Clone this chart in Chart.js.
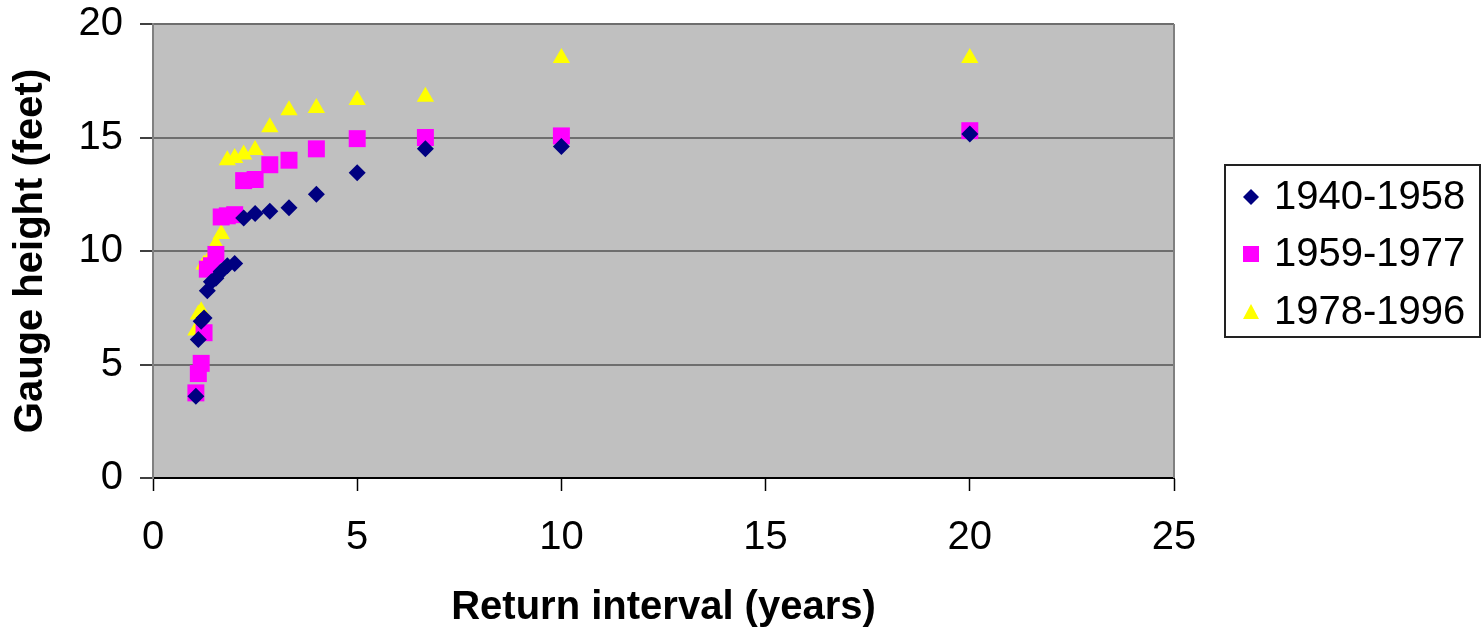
<!DOCTYPE html>
<html>
<head>
<meta charset="utf-8">
<script src="https://cdn.jsdelivr.net/npm/chart.js@4/dist/chart.umd.min.js"></script>
<style>
  html, body { margin: 0; padding: 0; background: #ffffff; }
  canvas { display: block; }
</style>
</head>
<body>
<canvas id="chart" width="1482" height="634"></canvas>
<script>
// Return interval (years) for each ranked annual peak
const returnIntervals = [20, 10, 6.67, 5, 4, 3.33, 2.86, 2.5, 2.22, 2.0, 1.82, 1.67, 1.54, 1.43, 1.33, 1.25, 1.18, 1.11, 1.05];

// Gauge height (feet) for each period
const gauge1940to1958 = [15.15, 14.6, 14.5, 13.45, 12.5, 11.9, 11.75, 11.65, 11.45, 9.45, 9.35, 9.1, 8.8, 8.65, 8.25, 7.05, 6.9, 6.1, 3.6];
const gauge1959to1977 = [15.3, 15.07, 15.0, 14.95, 14.5, 14.0, 13.8, 13.15, 13.1, 11.6, 11.55, 11.5, 9.85, 9.35, 9.2, 6.4, 5.05, 4.6, 3.75];
const gauge1978to1996 = [18.5, 18.5, 16.8, 16.65, 16.3, 16.2, 15.45, 14.45, 14.25, 14.1, 14.0, 10.75, 10.3, 9.65, 9.5, 9.4, 7.35, 7.2, 6.5];

const periodLabels = ['1940-1958', '1959-1977', '1978-1996'];
const xTicks = [0, 5, 10, 15, 20, 25];
const yTicks = [0, 5, 10, 15, 20];

const FONT = '"Liberation Sans", Arial, Helvetica, sans-serif';

function toPoints(xs, ys) {
  return xs.map((x, i) => ({ x: x, y: ys[i] }));
}

const seriesStyles = [
  { color: '#000080', pointStyle: 'rectRot', radius: 8.5 },
  { color: '#FF00FF', pointStyle: 'rect', radius: 12 },
  { color: '#FFFF00', pointStyle: 'triangle', radius: 10 }
];

// Grey plot background and plot frame
const plotArea = {
  id: 'plotArea',
  beforeDraw(chart) {
    const { ctx, chartArea: a } = chart;
    ctx.save();
    ctx.fillStyle = '#C0C0C0';
    ctx.fillRect(a.left, a.top, a.right - a.left, a.bottom - a.top);
    ctx.restore();
  },
  afterDatasetsDraw(chart) {
    const { ctx, chartArea: a } = chart;
    ctx.save();
    ctx.strokeStyle = '#808080';
    ctx.lineWidth = 2;
    ctx.beginPath();
    ctx.moveTo(a.right, a.top);
    ctx.lineTo(a.right, a.bottom);
    ctx.stroke();
    ctx.restore();
  }
};

// Boxed legend to the right of the plot
const boxedLegend = {
  id: 'boxedLegend',
  afterDraw(chart) {
    const ctx = chart.ctx;
    const box = { x: 1225, y: 165, w: 255, h: 172 };
    ctx.save();
    ctx.fillStyle = '#ffffff';
    ctx.fillRect(box.x, box.y, box.w, box.h);
    ctx.strokeStyle = '#222222';
    ctx.lineWidth = 2;
    ctx.strokeRect(box.x, box.y, box.w, box.h);

    const rowY = [197, 254, 312];
    const mx = 1251;
    chart.data.datasets.forEach((ds, i) => {
      const y = rowY[i];
      ctx.fillStyle = ds.backgroundColor;
      ctx.beginPath();
      if (ds.pointStyle === 'rectRot') {
        ctx.moveTo(mx, y - 8); ctx.lineTo(mx + 8, y); ctx.lineTo(mx, y + 8); ctx.lineTo(mx - 8, y);
      } else if (ds.pointStyle === 'rect') {
        ctx.rect(mx - 8, y - 8, 16, 16);
      } else {
        ctx.moveTo(mx, y - 8); ctx.lineTo(mx + 8, y + 7); ctx.lineTo(mx - 8, y + 7);
      }
      ctx.closePath();
      ctx.fill();

      ctx.fillStyle = '#000000';
      ctx.font = '40px ' + FONT;
      ctx.textAlign = 'left';
      ctx.textBaseline = 'middle';
      ctx.fillText(ds.label, 1274, y + 1);
    });
    ctx.restore();
  }
};

const datasets = [gauge1940to1958, gauge1959to1977, gauge1978to1996].map((ys, i) => ({
  label: periodLabels[i],
  data: toPoints(returnIntervals, ys),
  backgroundColor: seriesStyles[i].color,
  borderColor: seriesStyles[i].color,
  borderWidth: 0,
  pointStyle: seriesStyles[i].pointStyle,
  pointRadius: seriesStyles[i].radius,
  pointHoverRadius: seriesStyles[i].radius,
  showLine: false
}));

new Chart(document.getElementById('chart'), {
  type: 'scatter',
  data: { datasets: datasets },
  options: {
    responsive: false,
    devicePixelRatio: 1,
    animation: false,
    events: [],
    layout: { padding: { top: 24, right: 308, bottom: 0, left: 0 } },
    plugins: {
      legend: { display: false },
      tooltip: { enabled: false }
    },
    scales: {
      x: {
        type: 'linear',
        min: 0,
        max: 25,
        afterBuildTicks(scale) { scale.ticks = xTicks.map(v => ({ value: v })); },
        afterFit(scale) {
          scale.height = 156;
          scale.paddingLeft = 0;
          scale.paddingRight = 0;
        },
        ticks: {
          color: '#000000',
          font: { family: FONT, size: 40 },
          padding: 23,
          maxRotation: 0
        },
        grid: {
          drawOnChartArea: false,
          drawTicks: true,
          tickLength: 13,
          tickColor: '#000000',
          tickWidth: 1.5
        },
        border: { display: true, color: '#000000', width: 2 },
        title: {
          display: true,
          text: 'Return interval (years)',
          color: '#000000',
          font: { family: FONT, size: 40, weight: 'bold' },
          padding: { top: 0, bottom: 2 }
        }
      },
      y: {
        type: 'linear',
        min: 0,
        max: 20,
        afterBuildTicks(scale) { scale.ticks = yTicks.map(v => ({ value: v })); },
        afterFit(scale) {
          scale.width = 153;
          scale.paddingTop = 0;
          scale.paddingBottom = 0;
        },
        ticks: {
          color: '#000000',
          font: { family: FONT, size: 40 },
          padding: 17
        },
        grid: {
          drawOnChartArea: true,
          color: '#6e6e6e',
          lineWidth: 2,
          drawTicks: true,
          tickLength: 13,
          tickColor: '#000000',
          tickWidth: 1.5
        },
        border: { display: true, color: '#808080', width: 2 },
        title: {
          display: true,
          text: 'Gauge height (feet)',
          color: '#000000',
          font: { family: FONT, size: 40, weight: 'bold' },
          padding: { top: 7, bottom: 0 }
        }
      }
    }
  },
  plugins: [plotArea, boxedLegend]
});
</script>
</body>
</html>
